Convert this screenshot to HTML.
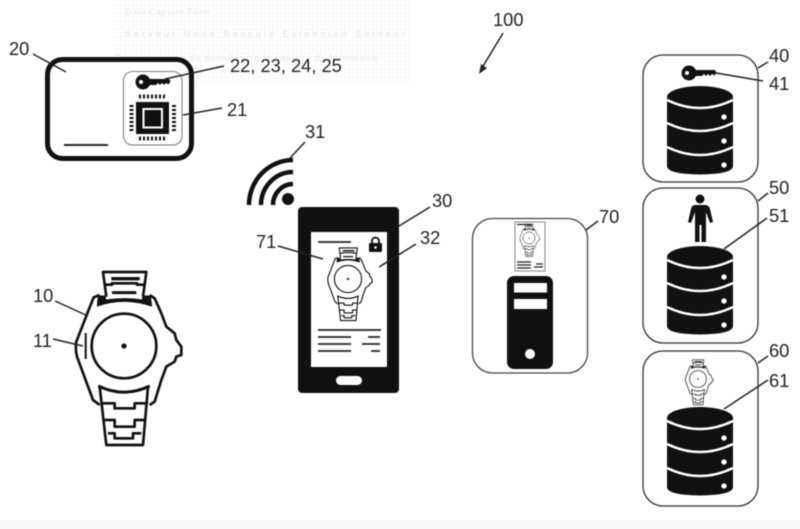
<!DOCTYPE html>
<html><head><meta charset="utf-8"><style>
html,body{margin:0;padding:0;background:#fff;width:800px;height:529px;overflow:hidden}
svg{display:block;filter:blur(.45px)}
text{font-family:"Liberation Sans",sans-serif;font-size:18.3px;fill:#222}
.l{stroke:#222;stroke-width:1.5;fill:none}
text.g{font-size:9px;fill:#e6e6e6}
</style></head><body>
<svg width="800" height="529" viewBox="0 0 800 529" xmlns="http://www.w3.org/2000/svg">
<defs>
<pattern id="n" width="4" height="4" patternUnits="userSpaceOnUse"><rect width="1.500" height="1.500" fill="#f3f3f3"/></pattern>
<g id="w" fill="none" stroke="#111" stroke-width="8" stroke-linejoin="round">
<path d="M240 135L222 142L205 185L170 275Q166 295 172 320L220 450L240 465M390 465L405 455L425 390L440 350L465 335L470 320L485 315V290L470 270L465 250L440 230L425 190L405 145L390 135"/>
<path d="M260 140L250 66H380L370 140"/>
<path d="M275 86H360" stroke-width="10"/>
<path d="M258 104H277V100H352V104H372"/>
<path d="M277 128H350" stroke-width="9"/>
<path fill="#111" stroke-width="3" d="M236 138H256L258 150Q313 142 368 150L370 138H392L396 168Q313 140 233 168Z"/>
<path fill="#fff" stroke="none" d="M240 410Q313 445 385 410L370 585H260Z"/>
<path d="M240 410L260 585H370L385 410"/>
<path d="M236 408Q313 445 390 408" stroke-width="9"/>
<path d="M245 460H285V475H345V460H385M255 510H285V530H345V510H375M265 550H285V565H340V550H365"/>
<circle cx="313" cy="288" r="97"/>
<circle cx="313" cy="288" r="8" fill="#111" stroke="none"/>
</g>
<g id="k">
<circle cx="0" cy="0" r="7.500" fill="#111"/>
<circle cx="-2" cy="0" r="2" fill="#fff"/>
<path d="M5-3H26L27.500-.5L25.500 2.500L23 1L21 3L19 1L17 3L15 1L13 3L5 3Z" fill="#111"/>
</g>
<g id="d">
<path d="M667 97A33 11 0 0 1 733 97V166Q733 174 700 174.500Q667 174 667 166Z" fill="#111"/>
<path d="M667 100Q700 116 733 100M667 123Q700 139 733 123M667 147Q700 163 733 147" fill="none" stroke="#fff" stroke-width="2.500"/>
<circle cx="724" cy="117" r="2.700" fill="#fff"/><circle cx="724" cy="141" r="2.700" fill="#fff"/><circle cx="724" cy="165" r="2.700" fill="#fff"/>
</g>
</defs>
<rect width="800" height="529" fill="#fff"/>
<rect y="520" width="800" height="9" fill="#f8f8f8"/>
<rect x="113" y="0" width="297" height="84" fill="url(#n)"/>
<text class="g" x="125" y="15" textLength="85">Data Capture Form</text>
<text class="g" x="125" y="37" textLength="280">Serveur  Mode  Bascule  Extension  Serveur</text>
<text class="g" x="115" y="61" textLength="262">Documentation de données de la capture du formulaire</text>
<text class="g" x="122" y="71" textLength="56">Format Access</text>

<!-- Card -->
<rect x="47.500" y="59.500" width="144" height="99" rx="15" fill="#fff" stroke="#111" stroke-width="5"/>
<rect x="123.500" y="71.500" width="58.500" height="73.500" rx="9" fill="#fff" stroke="#777" stroke-width="1"/>
<line x1="64" y1="145" x2="108" y2="145" stroke="#222" stroke-width="2"/>
<use href="#k" x="143" y="82"/>
<rect x="136" y="102" width="33" height="32" fill="#111"/>
<rect x="143.500" y="109" width="18.500" height="18.500" fill="#111" stroke="#fff" stroke-width="2"/>
<path d="M139 96.500H165M139 138.500H165" stroke="#111" stroke-width="4" stroke-dasharray="2 2"/>
<path d="M131.500 105V131M174 105V131" stroke="#111" stroke-width="4" stroke-dasharray="2 2"/>
<path class="l" d="M33 54L66 72M165 79L224 66M183 115L222 108"/>
<text x="9" y="55">20</text>
<text x="230" y="72">22, 23, 24, 25</text>
<text x="227" y="116">21</text>

<!-- Wifi -->
<circle cx="288" cy="199" r="6" fill="#111"/>
<path d="M249 205A44 45 0 0 1 293 160M261 205A32 33 0 0 1 293 172M273 205A20 21 0 0 1 293 184" fill="none" stroke="#111" stroke-width="4.500"/>
<path class="l" d="M290 158L305 142"/>
<text x="305" y="138">31</text>

<!-- Phone -->
<rect x="298" y="207" width="101" height="186" rx="4" fill="#111"/>
<rect x="311" y="232" width="76" height="135" fill="#fff"/>
<rect x="336" y="376" width="26" height="9" rx="4.500" fill="#fff"/>
<path d="M318 242H351M318 330H381M318 337H351M368 337H380M318 344H351M362 344H380M318 351H351M371 351H380" stroke="#222" stroke-width="1.800"/>
<rect x="369" y="243" width="13" height="9" rx="1" fill="#111"/>
<path d="M372 244V241A3.500 3.500 0 0 1 379 241V244" fill="none" stroke="#111" stroke-width="1.800"/>
<circle cx="375.500" cy="247.500" r="1.300" fill="#fff"/>
<use href="#w" transform="translate(348 279) scale(.14) translate(-313 -288)"/>
<path class="l" d="M399 226L430 207M379 267L416 244M278 246L323 259"/>
<text x="432" y="207">30</text>
<text x="420" y="244">32</text>
<text x="256" y="248">71</text>

<!-- Watch -->
<use href="#w" transform="translate(124 346) scale(.3333) translate(-313 -288)"/>
<line x1="85.700" y1="333" x2="85.700" y2="359" stroke="#111" stroke-width="2"/>
<path class="l" d="M55 301L88 316M53 339L83 346"/>
<text x="33" y="302">10</text>
<text x="33" y="347">11</text>

<!-- Server -->
<rect x="472.500" y="218.500" width="115" height="154.500" rx="20" fill="#fff" stroke="#444" stroke-width="1.300"/>
<rect x="515" y="222" width="30" height="49" fill="#fff" stroke="#888" stroke-width="1"/>
<use href="#w" transform="translate(529 238) scale(.0625) translate(-313 -288)"/>
<path d="M517 224.500H532M517 262H531M517 265H531M517 268H531M536 264H543M534 267H543" stroke="#222" stroke-width="1.300"/>
<rect x="507" y="276" width="46" height="93" rx="7" fill="#111"/>
<rect x="514" y="283" width="33" height="9.500" fill="#fff"/>
<rect x="514" y="299" width="33" height="10" fill="#fff"/>
<circle cx="530" cy="354" r="5" fill="#fff"/>
<path class="l" d="M586 230L598 221"/>
<text x="599" y="223">70</text>

<!-- DB boxes -->
<rect x="643" y="55" width="115" height="127" rx="20" fill="#fff" stroke="#333" stroke-width="1.300"/>
<rect x="643" y="188" width="115" height="155" rx="20" fill="#fff" stroke="#333" stroke-width="1.300"/>
<rect x="643" y="351" width="115" height="155" rx="20" fill="#fff" stroke="#333" stroke-width="1.300"/>
<use href="#d"/>
<use href="#d" y="160"/>
<use href="#d" y="321"/>
<use href="#k" x="689" y="73"/>
<circle cx="700" cy="199" r="4.500" fill="#111"/>
<path d="M695 205H705Q709 205 710 209L713 222L710 223L706 212V242H701.500V225H699.500V242H695V212L691 223L688 222L691 209Q692 205 695 205Z" fill="#111"/>
<use href="#w" transform="translate(698 379) scale(.087) translate(-313 -288)"/>
<path class="l" d="M758 68L768 62M716 73L763 81M758 201L768 193M724 249L767 218M758 363L768 356M724 409L768 380"/>
<text x="769" y="62">40</text>
<text x="769" y="90">41</text>
<text x="769" y="194">50</text>
<text x="769" y="222">51</text>
<text x="769" y="357">60</text>
<text x="769" y="387">61</text>

<!-- 100 -->
<text x="493" y="26">100</text>
<path class="l" d="M503 33L482 68"/>
<path d="M479 74L481 64L487 68Z" fill="#222"/>
</svg>
</body></html>
